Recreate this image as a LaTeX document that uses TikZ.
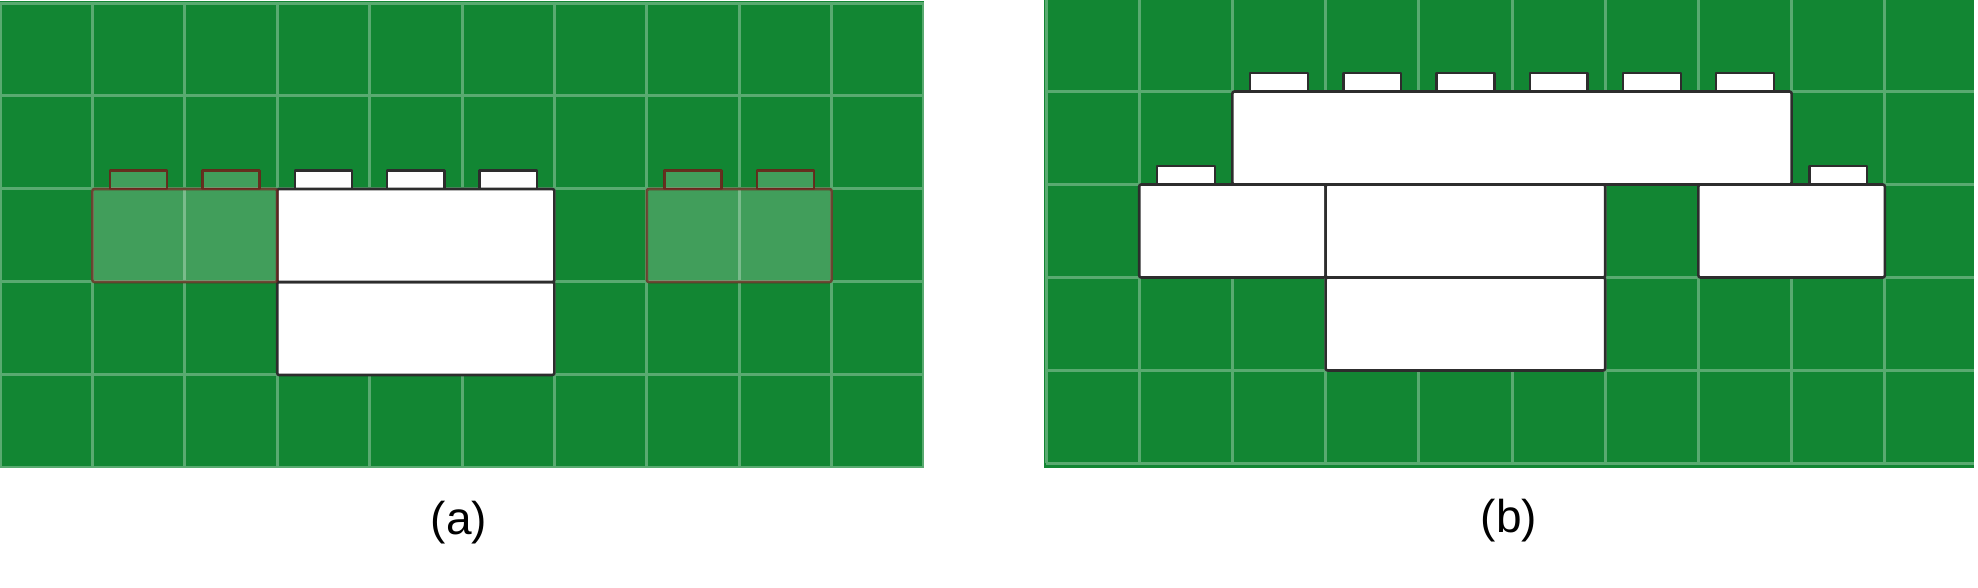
\documentclass[tikz,border=0pt]{standalone}
\usepackage{fontspec}
\setmainfont{Liberation Sans}
\usepackage{tikz}

\definecolor{baize}{RGB}{18,134,51}
\definecolor{ghostrim}{RGB}{105,35,25}
\definecolor{brickrim}{RGB}{45,45,45}

\begin{document}
\begin{tikzpicture}[
            x = 0.5pt, y = 0.5pt, % one unit per pixel
            line join = round
        ]

        \tikzstyle{board}=[fill = baize]
        \tikzstyle{gridline}=[
            draw = white,
            draw opacity = 0.3,
            line width = 1.5pt
        ]
        \tikzstyle{brick}=[
            draw = brickrim,
            line width = 1.3pt,
            fill = white,
            rounded corners = 1pt
        ]
        \tikzstyle{ghost}=[
            draw = ghostrim,
            draw opacity = 0.75,
            line width = 1.3pt,
            fill = white,
            fill opacity = 0.2,
            rounded corners = 1pt
        ]
        \tikzstyle{stud}=[draw = brickrim, line width = 1.2pt, fill = white]
        \tikzstyle{ghoststud}=[draw = ghostrim, draw opacity = 0.9, line width = 1.2pt, fill = white, fill opacity = 0.2]
        \tikzstyle{caption}=[font = \fontsize{23pt}{27pt}\selectfont, inner sep = 0pt]

        \useasboundingbox (0,0) rectangle (1978,588);

        % panel (a)
        \begin{scope}[yshift = 60pt, x = 46.2pt, y = 46.5pt]
            \fill[board] (0,0) rectangle (10,5.02);
            \draw[gridline, xstep = 46.2pt, ystep = 46.5pt] (0,0) grid (10,5);

            \draw[stud] (3.19,3) rectangle (3.81,3.2);
            \draw[stud] (4.19,3) rectangle (4.81,3.2);
            \draw[stud] (5.19,3) rectangle (5.81,3.2);
            \draw[brick] (3,1) rectangle (6,2);
            \draw[brick] (3,2) rectangle (6,3);

            % see-through bricks
            \draw[ghoststud] (1.19,3) rectangle (1.81,3.2);
            \draw[ghoststud] (2.19,3) rectangle (2.81,3.2);
            \draw[ghost] (1,2) rectangle (3,3);
            \draw[ghoststud] (7.19,3) rectangle (7.81,3.2);
            \draw[ghoststud] (8.19,3) rectangle (8.81,3.2);
            \draw[ghost] (7,2) rectangle (9,3);
        \end{scope}

        % panel (b)
        \begin{scope}[xshift = 523pt, yshift = 62.25pt, x = 46.6pt, y = 46.5pt]
            \fill[board] (-0.02,-0.05) rectangle (9.96,5.1);
            \draw[gridline, xstep = 46.6pt, ystep = 46.5pt] (0,0) grid (10,5);

            \draw[brick] (3,1) rectangle (6,2);
            \draw[stud] (1.19,3) rectangle (1.81,3.2);
            \draw[brick] (1,2) rectangle (3,3);
            \draw[brick] (3,2) rectangle (6,3);
            \draw[stud] (8.19,3) rectangle (8.81,3.2);
            \draw[brick] (7,2) rectangle (9,3);

            \draw[stud] (2.19,4) rectangle (2.81,4.2);
            \draw[stud] (3.19,4) rectangle (3.81,4.2);
            \draw[stud] (4.19,4) rectangle (4.81,4.2);
            \draw[stud] (5.19,4) rectangle (5.81,4.2);
            \draw[stud] (6.19,4) rectangle (6.81,4.2);
            \draw[stud] (7.19,4) rectangle (7.81,4.2);
            \draw[brick] (2,3) rectangle (8,4);
        \end{scope}

        \node[caption] (capA) at (459,65) {(a)};
        \node[caption] (capB) at (1509,67) {(b)};

    \end{tikzpicture}
\end{document}
